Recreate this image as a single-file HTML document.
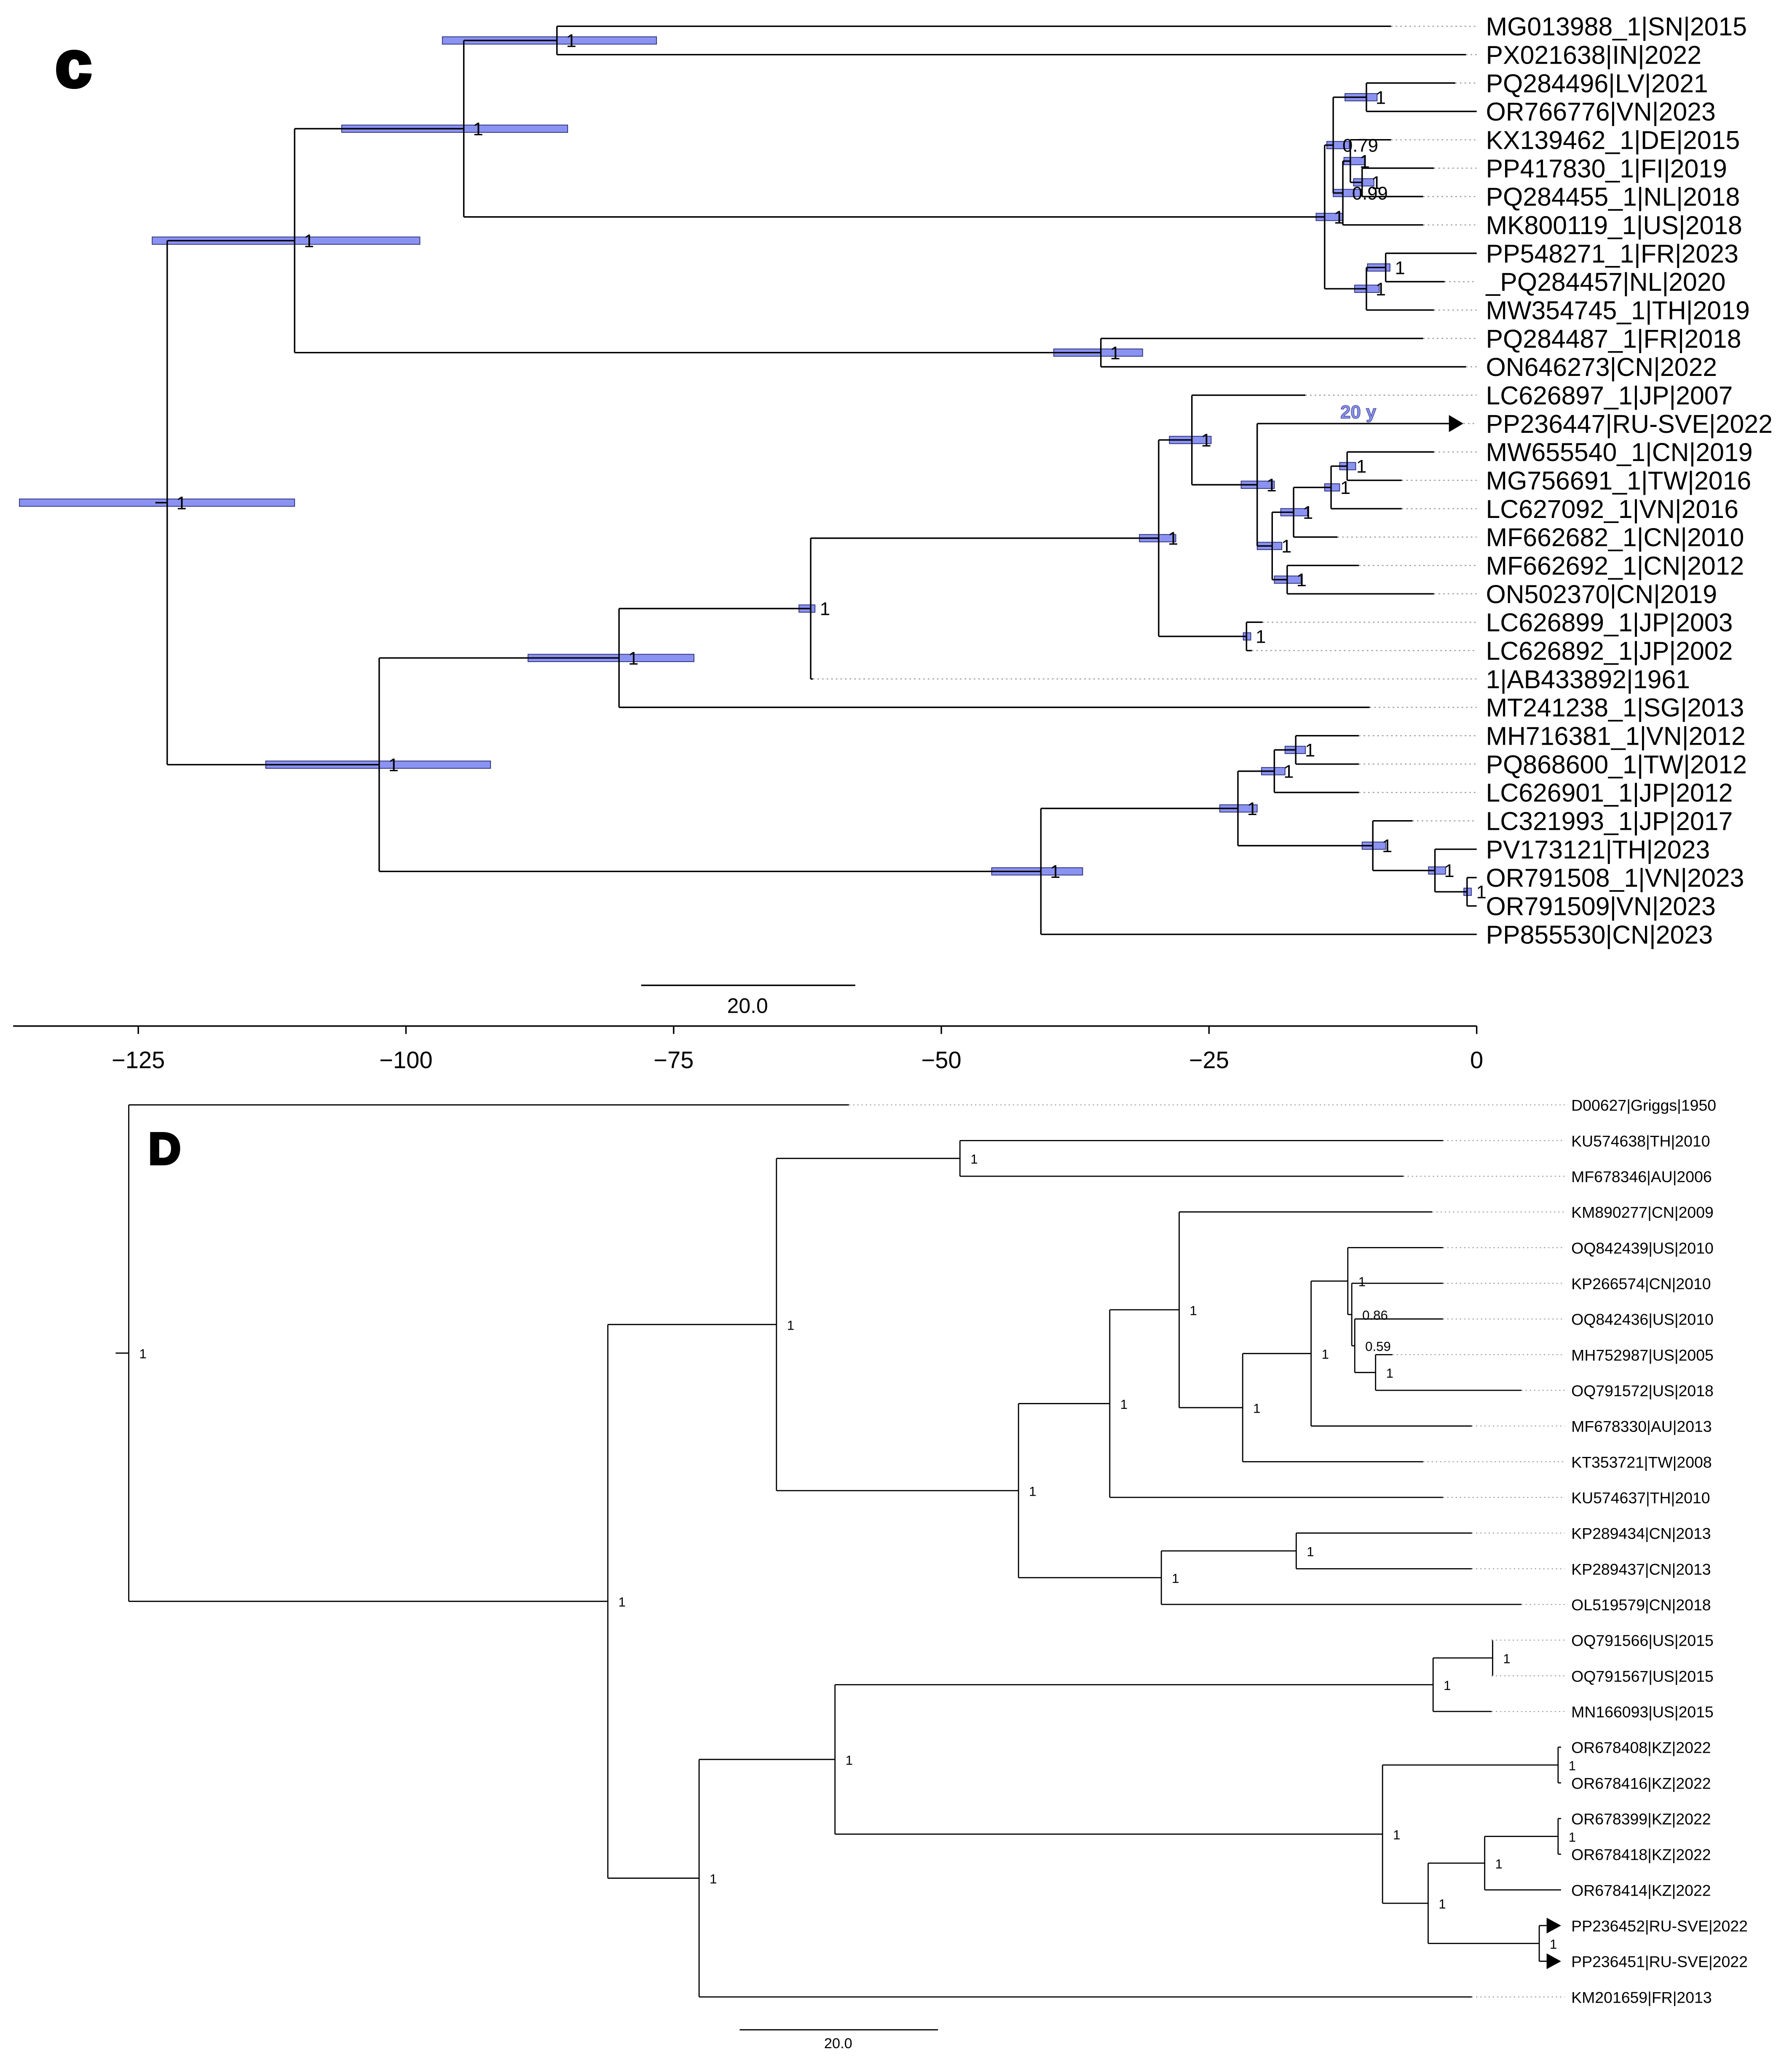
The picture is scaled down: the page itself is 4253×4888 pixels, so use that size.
<!DOCTYPE html>
<html><head><meta charset="utf-8"><title>Phylogenetic trees C and D</title>
<style>
html,body{margin:0;padding:0;background:#fff;}
svg{display:block;}
text{font-family:"Liberation Sans",Arial,sans-serif;}
</style></head>
<body>
<svg id="fig" xmlns="http://www.w3.org/2000/svg" width="4253" height="4888" viewBox="0 0 1364 1568" preserveAspectRatio="none">
<rect x="0" y="0" width="1364" height="1568" fill="#fff"/>
<text x="42" y="66" font-size="50" font-weight="900" fill="#000" stroke="#000" stroke-width="2.5">c</text>
<text x="113" y="886" font-size="34" font-weight="900" fill="#000" stroke="#000" stroke-width="2">D</text>
<g id="treeC"></g>
<g id="treeD"></g>
<g id="axisC"></g>
</svg>
<script>
// ---------- Panel C data ----------
const tipNamesC = ["MG013988_1|SN|2015","PX021638|IN|2022","PQ284496|LV|2021","OR766776|VN|2023","KX139462_1|DE|2015","PP417830_1|FI|2019","PQ284455_1|NL|2018","MK800119_1|US|2018","PP548271_1|FR|2023","_PQ284457|NL|2020","MW354745_1|TH|2019","PQ284487_1|FR|2018","ON646273|CN|2022","LC626897_1|JP|2007","PP236447|RU-SVE|2022","MW655540_1|CN|2019","MG756691_1|TW|2016","LC627092_1|VN|2016","MF662682_1|CN|2010","MF662692_1|CN|2012","ON502370|CN|2019","LC626899_1|JP|2003","LC626892_1|JP|2002","1|AB433892|1961","MT241238_1|SG|2013","MH716381_1|VN|2012","PQ868600_1|TW|2012","LC626901_1|JP|2012","LC321993_1|JP|2017","PV173121|TH|2023","OR791508_1|VN|2023","OR791509|VN|2023","PP855530|CN|2023"];
const tipYearsC = [2015,2022,2021,2023,2015,2019,2018,2018,2023,2020,2019,2018,2022,2007,2022,2019,2016,2016,2010,2012,2019,2003,2002,1961,2013,2012,2012,2012,2017,2023,2023,2023,2023];
const tipParentsC = ["C","C","Q","Q","R","S","S","N099","M","M","L","E","E","J","N1","N6","N6","N5","N3","N4","N4","K","K","H","G","X","X","V","W","Y","Z","Z","T"];
const nodeIdsC = ["root","A","B","C","D","P","Q","N099","R","S","L","M","E","F","G","H","I","J","N1","N2","N3","N4","N5","N6","K","T","U","V","X","W","Y","Z"];
const nodeParentsC = [null,"root","A","B","B","D","P","P","N099","R","D","L","A","root","F","G","H","I","J","N1","N2","N2","N3","N5","I","F","T","U","V","U","W","Y"];
const nodeAgesC = [-122.3,-110.4,-94.6,-85.9,-14.2,-13.4,-10.3,-12.5,-11.8,-10.7,-10.3,-8.5,-35.1,-102.5,-80.1,-62.2,-29.7,-26.6,-20.5,-19.1,-17.1,-17.7,-13.6,-12.1,-21.5,-40.7,-22.3,-18.9,-16.9,-9.7,-3.9,-0.9];
const hpdLowC = [-136.1,-123.7,-106.0,-96.6,-15.0,-14.0,-12.3,-13.4,-12.4,-11.5,-11.4,-10.2,-39.5,-113.1,-88.6,-63.3,-31.5,-28.7,-22.0,-20.5,-18.3,-18.9,-14.2,-12.8,-21.8,-45.3,-24.0,-20.1,-17.9,-10.7,-4.5,-1.2];
const hpdHighC = [-110.4,-98.7,-84.9,-76.6,-12.5,-11.9,-9.3,-10.8,-10.4,-9.6,-9.1,-8.1,-31.2,-92.1,-73.1,-61.8,-28.1,-24.8,-18.9,-18.2,-15.8,-16.4,-12.8,-11.3,-21.1,-36.8,-20.5,-17.9,-16.0,-8.5,-2.9,-0.5];
const supportC = ["1","1","1","1","1","0.79","1","0.99","1","1","1","1","1","1","1","1","1","1","1","1","1","1","1","1","1","1","1","1","1","1","1","1"];
const arrowTipsC = [14];
const axisTicksC = [-125,-100,-75,-50,-25,0];
const axisTickLabelsC = ["\u2212125","\u2212100","\u221275","\u221250","\u221225","0"];
const refYearC = 2023;

// ---------- Panel D data ----------
const tipNamesD = ["D00627|Griggs|1950","KU574638|TH|2010","MF678346|AU|2006","KM890277|CN|2009","OQ842439|US|2010","KP266574|CN|2010","OQ842436|US|2010","MH752987|US|2005","OQ791572|US|2018","MF678330|AU|2013","KT353721|TW|2008","KU574637|TH|2010","KP289434|CN|2013","KP289437|CN|2013","OL519579|CN|2018","OQ791566|US|2015","OQ791567|US|2015","MN166093|US|2015","OR678408|KZ|2022","OR678416|KZ|2022","OR678399|KZ|2022","OR678418|KZ|2022","OR678414|KZ|2022","PP236452|RU-SVE|2022","PP236451|RU-SVE|2022","KM201659|FR|2013"];
const tipDistD = [72.6,132.5,128.5,131.4,132.5,132.5,132.5,127.4,140.4,135.4,130.5,132.5,135.4,135.4,140.4,137.4,137.4,137.4,144.4,144.4,144.4,144.4,144.4,144.4,144.4,135.4];
const tipParentsD = ["r","n4","n4","n8","n11","n12","n13","n14","n14","n10","n9","n6","n15","n15","n7","n19","n19","n17","n20","n20","n24","n24","n22","n23","n23","n3"];
const nodeIdsD = ["r","n1","n2","n4","n5","n6","n8","n9","n10","n11","n12","n13","n14","n7","n15","n3","n16","n17","n19","n18","n20","n21","n22","n24","n23"];
const nodeParentsD = [null,"r","n1","n2","n2","n5","n6","n8","n9","n10","n11","n12","n13","n5","n7","n1","n3","n16","n17","n16","n18","n18","n21","n22","n21"];
const nodeDistD = [0,48.3,65.3,83.8,89.7,98.9,105.9,112.3,119.2,122.9,123.3,123.6,125.7,104.1,117.7,57.5,71.2,131.5,137.5,126.4,144.1,131.0,136.7,144.1,142.2];
const supportD = ["1","1","1","1","1","1","1","1","1","1","0.86","0.59","1","1","1","1","1","1","1","1","1","1","1","1","1"];
const arrowTipsD = [23,24];

const NS = "http://www.w3.org/2000/svg";
function mk(tag, attrs, parent){
  const e = document.createElementNS(NS, tag);
  for (const k in attrs) e.setAttribute(k, attrs[k]);
  parent.appendChild(e);
  return e;
}

// axis functions
const xC = t => 1124 + t * 8.15;
const yC = i => 20 + i * 21.6;
const xD = d => 98 + d * 7.55;
const yD = i => 841 + i * 27.16;

function layout(nodeIds, nodeParents, tipParents, tipY){
  const kids = {}; nodeIds.forEach(id => kids[id] = []);
  tipParents.forEach((p, i) => kids[p].push({tip:i}));
  nodeParents.forEach((p, i) => { if (p) kids[p].push({node:nodeIds[i]}); });
  const ny = {};
  function gy(id){
    if (ny[id] !== undefined) return ny[id];
    const ys = kids[id].map(c => c.tip !== undefined ? tipY(c.tip) : gy(c.node));
    ny[id] = (Math.min(...ys) + Math.max(...ys)) / 2;
    return ny[id];
  }
  nodeIds.forEach(gy);
  return {kids, ny};
}

// ---------- Draw panel C ----------
(function(){
  const g = document.getElementById('treeC');
  const L = layout(nodeIdsC, nodeParentsC, tipParentsC, yC);
  const nx = {}; nodeIdsC.forEach((id, i) => nx[id] = xC(nodeAgesC[i]));
  nodeIdsC.forEach((id, i) => {
    const x1 = xC(hpdLowC[i]), x2 = xC(hpdHighC[i]);
    const r = mk('rect', {x:x1, y:L.ny[id]-2.8, width:Math.max(2.5, x2-x1), height:5.6, fill:'#8b93f2', stroke:'#2a2f7a', 'stroke-width':0.6}, g);
    
    
  });
  nodeIdsC.forEach((id, i) => {
    const y = L.ny[id], x = nx[id];
    const ys = L.kids[id].map(c => c.tip !== undefined ? yC(c.tip) : L.ny[c.node]);
    const v = mk('line', {x1:x, x2:x, y1:Math.min(...ys), y2:Math.max(...ys), stroke:'#000', 'stroke-width':1.1}, g);
    
    
    const p = nodeParentsC[i];
    const px = p ? nx[p] : x - 9;
    const h = mk('line', {x1:px, x2:x, y1:y, y2:y, stroke:'#000', 'stroke-width':1.1}, g);
    
    
    const s = mk('text', {x:x + 7, y:y + 5, 'font-size':14, fill:'#000'}, g);
    s.textContent = supportC[i];
    
    
  });
  tipNamesC.forEach((name, i) => {
    const y = yC(i), px = nx[tipParentsC[i]];
    let tx = xC(tipYearsC[i] - refYearC);
    const isArrow = arrowTipsC.includes(i);
    if (isArrow) tx = xC(tipYearsC[i] - refYearC) - 2;
    const end = isArrow ? tx - 11 : tx;
    const b = mk('line', {x1:px, x2:end, y1:y, y2:y, stroke:'#000', 'stroke-width':1.1}, g);
    
    
    if (isArrow) {
      const tri = mk('polygon', {points:(tx-11)+','+(y-6.5)+' '+tx+','+y+' '+(tx-11)+','+(y+6.5), fill:'#000'}, g);
      
      
      const lab = mk('text', {x:(px+end)/2 + 4, y:y - 4, 'font-size':14, 'font-weight':'bold', fill:'#8b93f2', stroke:'#4a4f9a', 'stroke-width':0.5, 'text-anchor':'middle'}, g);
      lab.textContent = '20 y';
      
      
    }
    if (tx < 1121) {
      const d = mk('line', {x1:tx, x2:1124, y1:y, y2:y, stroke:'#999', 'stroke-width':0.8, 'stroke-dasharray':'1.2,2.3'}, g);
      
      
    }
    const t = mk('text', {x:1131, y:y + 7, 'font-size':19.5, fill:'#000'}, g);
    t.textContent = name;
    
    
  });
  const sb = mk('line', {x1:488, x2:651, y1:750, y2:750, stroke:'#000', 'stroke-width':1.1}, g);
  
  
  const st = mk('text', {x:569, y:771, 'font-size':16, 'text-anchor':'middle'}, g);
  st.textContent = '20.0';
  
  
})();

// ---------- Axis C ----------
(function(){
  const g = document.getElementById('axisC');
  const ax = mk('line', {x1:10, x2:1124, y1:781, y2:781, stroke:'#000', 'stroke-width':1.1}, g);
  
  
  axisTicksC.forEach((v, i) => {
    const tk = mk('line', {x1:xC(v), x2:xC(v), y1:781, y2:787, stroke:'#000', 'stroke-width':1.1}, g);
    
    
    const tl = mk('text', {x:xC(v), y:813, 'font-size':18, 'text-anchor':'middle'}, g);
    tl.textContent = axisTickLabelsC[i];
    
    
  });
})();

// ---------- Draw panel D ----------
(function(){
  const g = document.getElementById('treeD');
  const L = layout(nodeIdsD, nodeParentsD, tipParentsD, yD);
  const nx = {}; nodeIdsD.forEach((id, i) => nx[id] = xD(nodeDistD[i]));
  nodeIdsD.forEach((id, i) => {
    const y = L.ny[id], x = nx[id];
    const ys = L.kids[id].map(c => c.tip !== undefined ? yD(c.tip) : L.ny[c.node]);
    const v = mk('line', {x1:x, x2:x, y1:Math.min(...ys), y2:Math.max(...ys), stroke:'#000', 'stroke-width':0.9}, g);
    
    
    const p = nodeParentsD[i];
    const px = p ? nx[p] : x - 10;
    const h = mk('line', {x1:px, x2:x, y1:y, y2:y, stroke:'#000', 'stroke-width':0.9}, g);
    
    
    const s = mk('text', {x:x + 8, y:y + 4, 'font-size':10, fill:'#000'}, g);
    s.textContent = supportD[i];
    
    
  });
  tipNamesD.forEach((name, i) => {
    const y = yD(i), px = nx[tipParentsD[i]];
    const tx = xD(tipDistD[i]);
    const isArrow = arrowTipsD.includes(i);
    const end = isArrow ? tx - 11 : tx;
    const b = mk('line', {x1:px, x2:end, y1:y, y2:y, stroke:'#000', 'stroke-width':0.9}, g);
    
    
    if (isArrow) {
      const tri = mk('polygon', {points:(tx-11)+','+(y-6)+' '+tx+','+y+' '+(tx-11)+','+(y+6), fill:'#000'}, g);
      
      
    }
    if (tx < 1186) {
      const d = mk('line', {x1:tx, x2:1191, y1:y, y2:y, stroke:'#999', 'stroke-width':0.7, 'stroke-dasharray':'1,2.2'}, g);
      
      
    }
    const t = mk('text', {x:1196, y:y + 4.5, 'font-size':12, fill:'#000'}, g);
    t.textContent = name;
    
    
  });
  const sb = mk('line', {x1:563, x2:714, y1:1545, y2:1545, stroke:'#000', 'stroke-width':0.9}, g);
  
  
  const st = mk('text', {x:638, y:1559, 'font-size':11, 'text-anchor':'middle'}, g);
  st.textContent = '20.0';
  
  
})();
</script>
</body></html>
